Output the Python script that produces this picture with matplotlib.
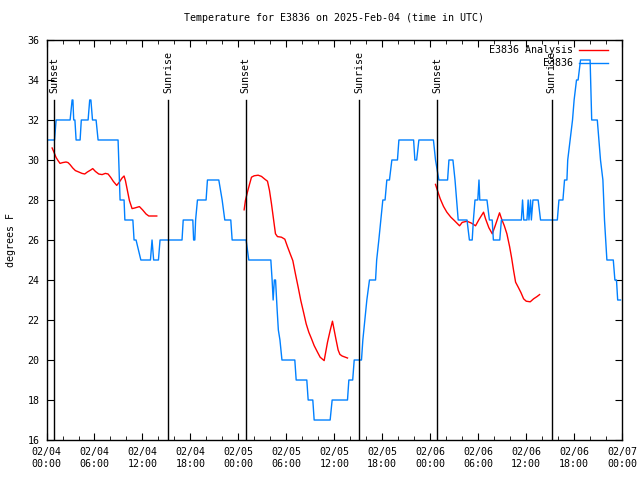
import numpy as np
import pandas as pd
import matplotlib
matplotlib.use("Agg")
import matplotlib.pyplot as plt
import matplotlib.dates as mdates

start = pd.Timestamp("2025-02-04 00:00")

# observed station temps (hours since start, deg F)
obs_hours = [0.0, 1.0, 1.2, 2.95, 3.2, 3.3, 3.4, 3.55, 3.7, 4.2, 4.35, 5.2, 5.4, 5.55,
             5.75, 6.2, 6.45, 8.95, 9.2, 9.7, 9.8, 10.8, 10.95, 11.2, 11.8, 13.0, 13.2,
             13.4, 14.0, 14.2, 16.95, 17.1, 18.3, 18.4, 18.55, 18.65, 18.88, 19.96, 20.13,
             21.55, 21.97, 22.3, 23.05, 23.22, 24.97, 25.3, 28.06, 28.22, 28.35, 28.5,
             28.65, 28.85, 29.0, 29.2, 29.45, 31.06, 31.23, 32.56, 32.73, 33.31, 33.48,
             35.48, 35.73, 37.65, 37.82, 38.3, 38.49, 39.4, 39.57, 39.82, 40.07, 40.4,
             41.16, 41.3, 41.57, 41.82, 42.07, 42.35, 42.57, 42.9, 43.2, 43.9, 44.08,
             45.92, 46.08, 46.3, 46.58, 48.4, 48.66, 49.08, 50.17, 50.34, 50.84, 51.1,
             51.3, 51.5, 52.6, 52.9, 53.25, 53.4, 53.6, 53.95, 54.1, 54.2, 55.1, 55.4,
             55.75, 55.9, 56.7, 56.9, 59.4, 59.55, 59.7, 60.1, 60.25, 60.35, 60.55, 60.65,
             60.85, 61.5, 61.8, 63.9, 64.1, 64.6, 64.8, 65.1, 65.2, 65.5, 65.8, 66.0, 66.3,
             66.5, 66.8, 68.0, 68.2, 68.9, 69.1, 69.3, 69.6, 69.7, 69.8, 69.95, 70.1, 70.9,
             71.1, 71.3, 71.45, 71.8]
obs_temps = [31, 31, 32, 32, 33, 33, 32, 32, 31, 31, 32, 32, 33, 33,
             32, 32, 31, 31, 28, 28, 27, 27, 26, 26, 25, 25, 26,
             25, 25, 26, 26, 27, 27, 26, 26, 27, 28, 28, 29,
             29, 28, 27, 27, 26, 26, 25, 25, 24, 23, 24,
             24, 22.5, 21.5, 21, 20, 20, 19, 19, 18, 18, 17,
             17, 18, 18, 19, 19, 20, 20, 21, 22, 23, 24,
             24, 25, 26, 27, 28, 28, 29, 29, 30, 30, 31,
             31, 30, 30, 31, 31, 30, 29, 29, 30, 30, 29,
             28, 27, 27, 26, 26, 27, 28, 28, 29, 28, 28, 27,
             27, 26, 26, 27, 27, 28, 27, 27, 28, 27, 28, 27,
             28, 28, 27, 27, 28, 28, 29, 29, 30, 31, 32, 33, 34,
             34, 35, 35, 32, 32, 31, 30, 29, 28, 27, 26, 25, 25,
             24, 24, 23, 23]

# analysis runs (three separate segments)
ana1_hours = [0.7, 0.94, 1.19, 1.44, 1.69, 2.02, 2.44, 2.69, 2.94, 3.28, 3.61, 4.03, 4.44,
              4.78, 5.11, 5.53, 5.78, 6.11, 6.53, 6.95, 7.36, 7.7, 8.03, 8.36, 8.78, 9.12,
              9.45, 9.7, 9.87, 10.12, 10.37, 10.7, 11.03, 11.62, 12.03, 12.45, 12.79,
              13.29, 13.79]
ana1_temps = [30.6, 30.38, 30.13, 29.97, 29.83, 29.87, 29.9, 29.87, 29.77, 29.6, 29.47,
              29.4, 29.33, 29.3, 29.4, 29.5, 29.57, 29.43, 29.3, 29.27, 29.33, 29.3, 29.13,
              28.93, 28.73, 28.9, 29.1, 29.2, 28.97, 28.47, 27.97, 27.57, 27.6, 27.67,
              27.5, 27.3, 27.2, 27.2, 27.2]
ana2_hours = [24.72, 24.88, 25.13, 25.39, 25.64, 25.97, 26.47, 26.89, 27.31, 27.64, 27.89,
              28.14, 28.39, 28.64, 28.89, 29.39, 29.81, 30.14, 30.48, 30.81, 31.14, 31.48,
              31.81, 32.15, 32.48, 32.81, 33.15, 33.48, 33.9, 34.23, 34.73, 35.15, 35.48,
              35.77, 36.2, 36.48, 36.7, 36.98, 37.65]
ana2_temps = [27.51, 27.97, 28.39, 28.78, 29.14, 29.21, 29.24, 29.18, 29.04, 28.94, 28.48,
              27.81, 27.06, 26.31, 26.17, 26.14, 26.04, 25.67, 25.31, 24.97, 24.3, 23.64,
              22.97, 22.39, 21.81, 21.39, 21.06, 20.72, 20.39, 20.14, 19.97, 20.89, 21.47,
              21.94, 21.05, 20.5, 20.28, 20.2, 20.1]
ana3_hours = [48.66, 48.9, 49.25, 49.66, 50.08, 50.58, 51.0, 51.42, 51.67, 52.0, 52.6,
              53.17, 53.67, 54.08, 54.42, 54.67, 54.92, 55.34, 55.76, 56.09, 56.42, 56.67,
              56.92, 57.26, 57.59, 57.93, 58.18, 58.43, 58.68, 59.01, 59.35, 59.68, 60.01,
              60.51, 60.93, 61.35, 61.68]
ana3_temps = [28.78, 28.48, 28.06, 27.68, 27.39, 27.14, 26.98, 26.81, 26.71, 26.88, 26.94,
              26.84, 26.71, 27.01, 27.23, 27.39, 27.06, 26.61, 26.31, 26.67, 27.06, 27.36,
              27.06, 26.72, 26.31, 25.67, 25.11, 24.47, 23.89, 23.64, 23.37, 23.06, 22.94,
              22.91, 23.06, 23.17, 23.27]

sun_hours = [0.98, 15.2, 24.9, 39.1, 48.9, 63.2]
sun_labels = ["Sunset", "Sunrise", "Sunset", "Sunrise", "Sunset", "Sunrise"]


def to_time(hours):
    return start + pd.to_timedelta(np.array(hours), unit="h")


plt.rcParams['font.family'] = ['DejaVu Sans Mono']
fs = 7.2

fig = plt.figure(figsize=(6.4, 4.8), dpi=100)
ax = fig.add_axes([0.0727, 0.0833, 0.8993, 0.8334])

red = '#ff0000'
blue = '#0080ff'
ax.plot(to_time(ana1_hours), ana1_temps, color=red, lw=1.0, label='E3836 Analysis')
ax.plot(to_time(ana2_hours), ana2_temps, color=red, lw=1.0)
ax.plot(to_time(ana3_hours), ana3_temps, color=red, lw=1.0)
ax.plot(to_time(obs_hours), obs_temps, color=blue, lw=1.0, label='E3836')

for h, lab in zip(sun_hours, sun_labels):
    t = to_time([h])[0]
    ax.plot([t, t], [16, 33], color='black', lw=1.0)
    ax.text(t, 33.35, lab, rotation=90, ha='center', va='bottom', fontsize=fs)

ax.set_xlim(start, start + pd.Timedelta(hours=72))
ax.set_ylim(16, 36)
ax.set_yticks(np.arange(16, 37, 2))
ax.xaxis.set_major_locator(mdates.HourLocator(byhour=[0, 6, 12, 18]))
ax.xaxis.set_major_formatter(mdates.DateFormatter('%m/%d\n%H:%M'))
ax.xaxis.set_minor_locator(mdates.HourLocator(byhour=range(0, 24, 2)))
ax.tick_params(which='both', direction='in', top=True, right=True, labelsize=fs, pad=5)
ax.tick_params(which='major', length=5)
ax.tick_params(which='minor', length=3)
for sp in ax.spines.values():
    sp.set_linewidth(1.0)

ax.set_ylabel('degrees F', fontsize=fs, labelpad=8)
ax.set_title('Temperature for E3836 on 2025-Feb-04 (time in UTC)', fontsize=fs, pad=14)

leg = ax.legend(loc='upper right', frameon=False, markerfirst=False, fontsize=fs,
                handlelength=2.9, borderaxespad=0.25, borderpad=0.3, labelspacing=0.3,
                handletextpad=0.6)
leg.set_bbox_to_anchor((0.9855, 1.0), transform=ax.transAxes)
for txt in leg.get_texts():
    txt.set_ha('right')

fig.savefig('out.png', dpi=100)
